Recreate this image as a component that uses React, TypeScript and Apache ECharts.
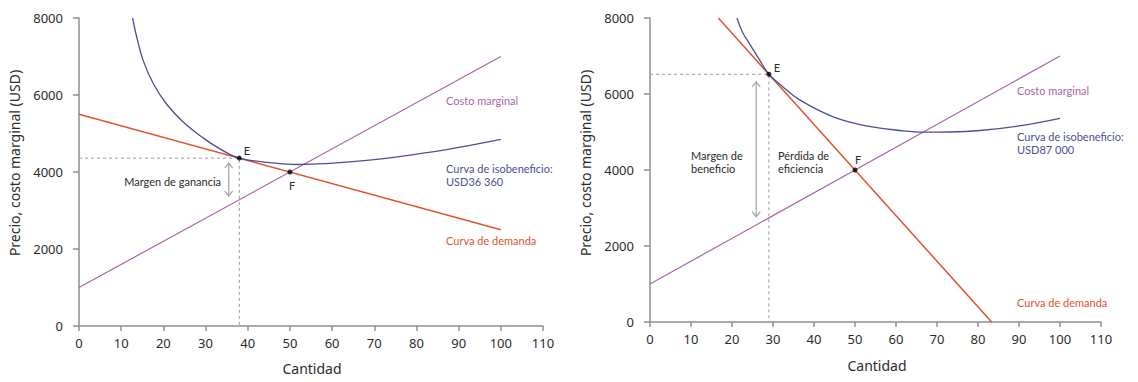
import React, { useEffect, useRef } from "react";
import * as echarts from "echarts";

// ---- Data ----
const xMin = 0;
const xMax = 110;
const xInterval = 10;
const yMin = 0;
const yMax = 8000;
const yInterval = 2000;

// Left panel
const leftMC = [[0, 1000], [100, 7000]];
const leftDemand = [[0, 5500], [100, 2500]];
const leftIso = [
  [12.7, 8000], [13.7, 7500], [15.2, 6900], [17.6, 6300], [20.8, 5760],
  [24.7, 5300], [29.5, 4880], [33.4, 4600], [38, 4360], [46, 4235],
  [52, 4195], [58, 4215], [70, 4320], [82, 4495], [90, 4640], [100, 4850],
];
const leftE = [38, 4360];
const leftF = [50, 4000];
const leftArrow = [35.5, 4230, 3380];
const leftProfitLabel = "USD36 360";

// Right panel
const rightMC = [[0, 1000], [100, 7000]];
const rightDemand = [[16.67, 8000], [83.33, 0]];
const rightIso = [
  [21.2, 8000], [22.6, 7620], [24.4, 7300], [26.6, 6920], [29, 6520],
  [32.5, 6180], [36.6, 5840], [44.7, 5400], [52.8, 5160], [61, 5040],
  [67, 4995], [73, 5000], [80.5, 5040], [90, 5160], [100, 5360],
];
const rightE = [29, 6520];
const rightF = [50, 4000];
const rightArrow = [25.9, 6320, 2770];
const rightProfitLabel = "USD87 000";

// ---- Styles ----
const FONT = "Noto Sans";
const NOTE_FONT = "Lato";
const C_MC = "#aa66a8";
const C_ISO = "#4b4f9a";
const C_DEM = "#e0532f";
const C_GRAY = "#9a9a9a";
const C_AXIS = "#8f8f8f";
const C_TEXT = "#2b2b2b";

function xAxisCfg(gridIndex: number) {
  return {
    type: "value",
    gridIndex,
    min: xMin,
    max: xMax,
    interval: xInterval,
    axisLine: { show: true, lineStyle: { color: C_AXIS, width: 1.5 } },
    axisTick: { show: true, length: 5, lineStyle: { color: C_AXIS, width: 1.5 } },
    axisLabel: { color: C_TEXT, fontSize: 13, fontFamily: FONT, margin: 10 },
    splitLine: { show: false },
  };
}
function yAxisCfg(gridIndex: number) {
  return {
    type: "value",
    gridIndex,
    min: yMin,
    max: yMax,
    interval: yInterval,
    axisLine: { show: true, lineStyle: { color: C_AXIS, width: 1.5 } },
    axisTick: { show: true, length: 6, lineStyle: { color: C_AXIS, width: 1.5 } },
    axisLabel: { color: C_TEXT, fontSize: 13, fontFamily: FONT, margin: 16, formatter: (v: number) => String(v) },
    splitLine: { show: false },
  };
}

function lineSeries(data: number[][], color: string, idx: number, width = 1.3, smooth: any = false) {
  return {
    type: "line",
    xAxisIndex: idx,
    yAxisIndex: idx,
    data,
    symbol: "none",
    smooth,
    lineStyle: { color, width },
    silent: true,
    z: 3,
  };
}

function dashedSeries(e: number[], idx: number) {
  return {
    type: "line",
    xAxisIndex: idx,
    yAxisIndex: idx,
    data: [[0, e[1]], [e[0], e[1]], [e[0], 0]],
    symbol: "none",
    lineStyle: { color: C_GRAY, width: 1, type: [3, 3] },
    silent: true,
    z: 2,
  };
}

function arrowSeries(a: number[], idx: number) {
  return {
    type: "custom",
    xAxisIndex: idx,
    yAxisIndex: idx,
    data: [a],
    silent: true,
    z: 2,
    renderItem: (params: any, api: any) => {
      const top = api.coord([api.value(0), api.value(1)]);
      const bot = api.coord([api.value(0), api.value(2)]);
      const s = { stroke: "#a8a8a8", lineWidth: 1.3, fill: null };
      const hw = 4;
      const hh = 5;
      return {
        type: "group",
        children: [
          { type: "line", shape: { x1: top[0], y1: top[1], x2: bot[0], y2: bot[1] }, style: s },
          { type: "polyline", shape: { points: [[top[0] - hw, top[1] + hh], [top[0], top[1]], [top[0] + hw, top[1] + hh]] }, style: s },
          { type: "polyline", shape: { points: [[bot[0] - hw, bot[1] - hh], [bot[0], bot[1]], [bot[0] + hw, bot[1] - hh]] }, style: s },
        ],
      };
    },
  };
}

function pointSeries(pts: number[][], idx: number) {
  return {
    type: "scatter",
    xAxisIndex: idx,
    yAxisIndex: idx,
    data: pts,
    symbol: "circle",
    symbolSize: 5,
    itemStyle: { color: "#000" },
    silent: true,
    z: 5,
  };
}

function txt(x: number, y: number, text: string, color: string, size = 11, align = "left", font = NOTE_FONT, extra: any = {}) {
  return {
    type: "text",
    x,
    y,
    silent: true,
    style: {
      text,
      fill: color,
      fontSize: size,
      fontFamily: font,
      align,
      verticalAlign: "middle",
      lineHeight: 13,
      ...extra,
    },
  };
}

export default function App() {
  const ref = useRef<HTMLDivElement>(null);
  useEffect(() => {
    if (!ref.current) return;
    const chart = echarts.init(ref.current, null, { renderer: "svg" });
    const option: any = {
      animation: false,
      backgroundColor: "#ffffff",
      grid: [
        { left: 79, top: 18, width: 464, height: 308 },
        { left: 650, top: 18, width: 451, height: 304 },
      ],
      xAxis: [xAxisCfg(0), xAxisCfg(1)],
      yAxis: [yAxisCfg(0), yAxisCfg(1)],
      series: [
        dashedSeries(leftE, 0),
        arrowSeries(leftArrow, 0),
        lineSeries(leftMC, C_MC, 0, 1.2),
        lineSeries(leftDemand, C_DEM, 0, 1.5),
        lineSeries(leftIso, C_ISO, 0, 1.3, 0.4),
        pointSeries([leftE, leftF], 0),

        dashedSeries(rightE, 1),
        arrowSeries(rightArrow, 1),
        lineSeries(rightMC, C_MC, 1, 1.2),
        lineSeries(rightDemand, C_DEM, 1, 1.5),
        lineSeries(rightIso, C_ISO, 1, 1.3, 0.4),
        pointSeries([rightE, rightF], 1),
      ],
      graphic: [
        // axis titles
        {
          type: "text", x: 14, y: 163, rotation: Math.PI / 2, silent: true,
          style: { text: "Precio, costo marginal (USD)", fill: C_TEXT, fontSize: 14, fontFamily: FONT, align: "center", verticalAlign: "middle" },
        },
        txt(312, 368, "Cantidad", C_TEXT, 14, "center", FONT),
        {
          type: "text", x: 585, y: 163, rotation: Math.PI / 2, silent: true,
          style: { text: "Precio, costo marginal (USD)", fill: C_TEXT, fontSize: 14, fontFamily: FONT, align: "center", verticalAlign: "middle" },
        },
        txt(877, 365, "Cantidad", C_TEXT, 14, "center", FONT),

        // left annotations
        txt(446, 100, "Costo marginal", C_MC),
        txt(446, 174.5, "Curva de isobeneficio:\n" + leftProfitLabel, C_ISO),
        txt(446, 240, "Curva de demanda", C_DEM),
        txt(221, 181, "Margen de ganancia", C_TEXT, 11, "right"),
        txt(247, 150, "E", C_TEXT, 11, "center"),
        txt(292, 185, "F", C_TEXT, 11, "center"),

        // right annotations
        txt(1017, 90, "Costo marginal", C_MC),
        txt(1017, 143, "Curva de isobeneficio:\n" + rightProfitLabel, C_ISO),
        txt(1017, 302, "Curva de demanda", C_DEM),
        txt(691, 162, "Margen de\nbeneficio", C_TEXT),
        txt(778, 162, "Pérdida de\neficiencia", C_TEXT),
        txt(777, 67, "E", C_TEXT, 11, "center"),
        txt(858, 159, "F", C_TEXT, 11, "center"),
      ],
    };
    chart.setOption(option);
    return () => chart.dispose();
  }, []);
  return (
    <div
      ref={ref}
      style={{ position: "fixed", left: 0, top: 0, width: 1138, height: 382, background: "#fff" }}
    />
  );
}
